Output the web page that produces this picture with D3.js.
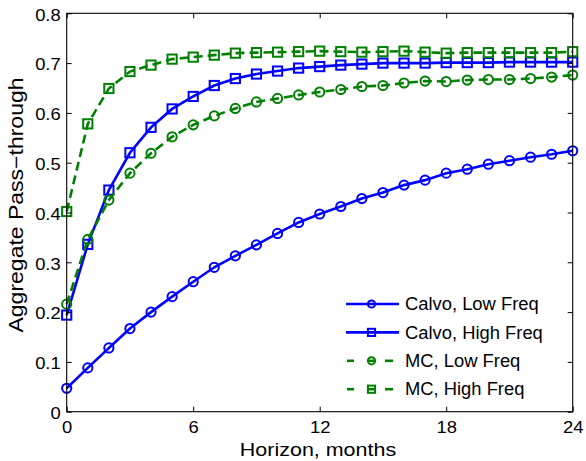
<!DOCTYPE html>
<html>
<head>
<meta charset="utf-8">
<script src="https://cdn.jsdelivr.net/npm/d3@7"></script>
<style>
  html, body { margin: 0; padding: 0; background: #fff; }
  svg { display: block; font-family: Arial, "Liberation Sans", Helvetica, sans-serif; }
</style>
</head>
<body>
<svg id="chart" width="586" height="461"></svg>
<script>
// Horizon in months
const months = d3.range(0, 25);

// Aggregate pass-through by model / frequency
const calvoLow = [0.047, 0.088, 0.128, 0.167, 0.200, 0.231, 0.261, 0.290, 0.313, 0.335,
  0.358, 0.380, 0.397, 0.412, 0.428, 0.440, 0.455, 0.465, 0.479, 0.487,
  0.497, 0.504, 0.511, 0.517, 0.524];
const calvoHigh = [0.194, 0.336, 0.445, 0.520, 0.571, 0.608, 0.633, 0.655, 0.669, 0.678,
  0.684, 0.690, 0.693, 0.696, 0.698, 0.700, 0.700, 0.700, 0.701, 0.701,
  0.701, 0.702, 0.702, 0.702, 0.702];
const mcLow = [0.216, 0.346, 0.425, 0.479, 0.519, 0.552, 0.576, 0.594, 0.609, 0.622,
  0.629, 0.636, 0.642, 0.647, 0.653, 0.655, 0.660, 0.664, 0.663, 0.666,
  0.667, 0.667, 0.669, 0.672, 0.676];
const mcHigh = [0.402, 0.578, 0.649, 0.683, 0.696, 0.708, 0.712, 0.716, 0.720, 0.721,
  0.722, 0.723, 0.724, 0.723, 0.722, 0.723, 0.724, 0.722, 0.720, 0.721,
  0.721, 0.721, 0.721, 0.721, 0.723];

const seriesNames = ["Calvo, Low Freq", "Calvo, High Freq", "MC, Low Freq", "MC, High Freq"];
const xTicks = [0, 6, 12, 18, 24];
const yTicks = [0, 0.1, 0.2, 0.3, 0.4, 0.5, 0.6, 0.7, 0.8];

const series = [
  { name: seriesNames[0], values: calvoLow,  color: "#0000ff", dash: null,  marker: "circle" },
  { name: seriesNames[1], values: calvoHigh, color: "#0000ff", dash: null,  marker: "square" },
  { name: seriesNames[2], values: mcLow,     color: "#008000", dash: "9,5", marker: "circle" },
  { name: seriesNames[3], values: mcHigh,    color: "#008000", dash: "9,5", marker: "square" }
];

const svg = d3.select("#chart");
const plotLeft = 66.7, plotRight = 572.7, plotTop = 13.3, plotBottom = 411.7;

const x = d3.scaleLinear().domain([0, 24]).range([plotLeft, plotRight]);
const y = d3.scaleLinear().domain([0, 0.8]).range([plotBottom, plotTop]);

// Widen a text horizontally about its own anchor point
function widen(sel, sx) {
  sel.each(function () {
    const t = d3.select(this);
    const ax = +t.attr("x") || 0, ay = +t.attr("y") || 0;
    t.attr("transform", `translate(${ax},${ay}) scale(${sx},1) translate(${-ax},${-ay})`);
  });
}

// Series lines and open markers
const line = d3.line().x((d, i) => x(months[i])).y(d => y(d));
const plot = svg.append("g");

function drawMarker(g, type, cx, cy, color, size) {
  if (type === "circle") {
    g.append("circle").attr("cx", cx).attr("cy", cy).attr("r", size)
      .attr("fill", "none").attr("stroke", color).attr("stroke-width", 2);
  } else {
    g.append("rect").attr("x", cx - size).attr("y", cy - size)
      .attr("width", size * 2).attr("height", size * 2)
      .attr("fill", "none").attr("stroke", color).attr("stroke-width", 2);
  }
}

series.forEach(s => {
  plot.append("path").datum(s.values)
    .attr("d", line)
    .attr("fill", "none")
    .attr("stroke", s.color)
    .attr("stroke-width", 2.6)
    .attr("stroke-dasharray", s.dash);
  s.values.forEach((v, i) => drawMarker(plot, s.marker, x(months[i]), y(v), s.color, 4.6));
});

// Axes box with inward ticks on all four sides
const axes = svg.append("g");
axes.append("rect").attr("x", plotLeft).attr("y", plotTop)
  .attr("width", plotRight - plotLeft).attr("height", plotBottom - plotTop)
  .attr("fill", "none").attr("stroke", "#000").attr("stroke-width", 1.1);

const tickLen = 5;
const xb = axes.append("g").attr("transform", `translate(0,${plotBottom})`)
  .call(d3.axisBottom(x).tickValues(xTicks).tickFormat(d3.format("d"))
    .tickSizeInner(-tickLen).tickSizeOuter(0).tickPadding(10));
const xt = axes.append("g").attr("transform", `translate(0,${plotTop})`)
  .call(d3.axisTop(x).tickValues(xTicks).tickFormat("")
    .tickSizeInner(-tickLen).tickSizeOuter(0));
const yl = axes.append("g").attr("transform", `translate(${plotLeft},0)`)
  .call(d3.axisLeft(y).tickValues(yTicks).tickFormat(d => d === 0 ? "0" : d3.format(".1f")(d))
    .tickSizeInner(-tickLen).tickSizeOuter(0).tickPadding(6));
const yr = axes.append("g").attr("transform", `translate(${plotRight},0)`)
  .call(d3.axisRight(y).tickValues(yTicks).tickFormat("")
    .tickSizeInner(-tickLen).tickSizeOuter(0));

[xb, xt, yl, yr].forEach(g => {
  g.select(".domain").remove();
  g.selectAll("line").attr("stroke", "#000");
  g.selectAll("text").attr("fill", "#000").style("font-size", "16px")
    .style("font-family", "Arial, 'Liberation Sans', sans-serif");
});
yl.selectAll("text").attr("dy", "0.42em");
widen(xb.selectAll("text"), 1.15);
widen(yl.selectAll("text"), 1.15);

// Axis titles
const xTitle = svg.append("text").attr("x", 318).attr("y", 456)
  .attr("text-anchor", "middle").style("font-size", "19px").text("Horizon, months");
widen(xTitle, 1.13);
svg.append("text").attr("transform", "translate(23,205) rotate(-90) scale(1.15,1)")
  .attr("text-anchor", "middle").style("font-size", "20px").text("Aggregate Pass\u2212through");

// Legend (no frame)
const legend = svg.append("g");
const legX0 = 346, legX1 = 399, legY0 = 304, legDy = 28.4, legMid = 371.5;
series.forEach((s, i) => {
  const ly = legY0 + i * legDy;
  const seg = (a, b) => legend.append("line").attr("x1", a).attr("x2", b)
    .attr("y1", ly).attr("y2", ly).attr("stroke", s.color).attr("stroke-width", 2.6);
  if (s.dash) {
    seg(legX0 + 1, legX0 + 8);
    seg(legMid - 4, legMid + 4);
    seg(legX1 - 14, legX1 - 6);
  } else {
    seg(legX0, legX1);
  }
  drawMarker(legend, s.marker, legMid, ly, s.color, 3.6);
  const t = legend.append("text").attr("x", 405).attr("y", ly).attr("dy", "0.36em")
    .style("font-size", "17.5px").text(s.name);
  widen(t, 1.05);
});
</script>
</body>
</html>
